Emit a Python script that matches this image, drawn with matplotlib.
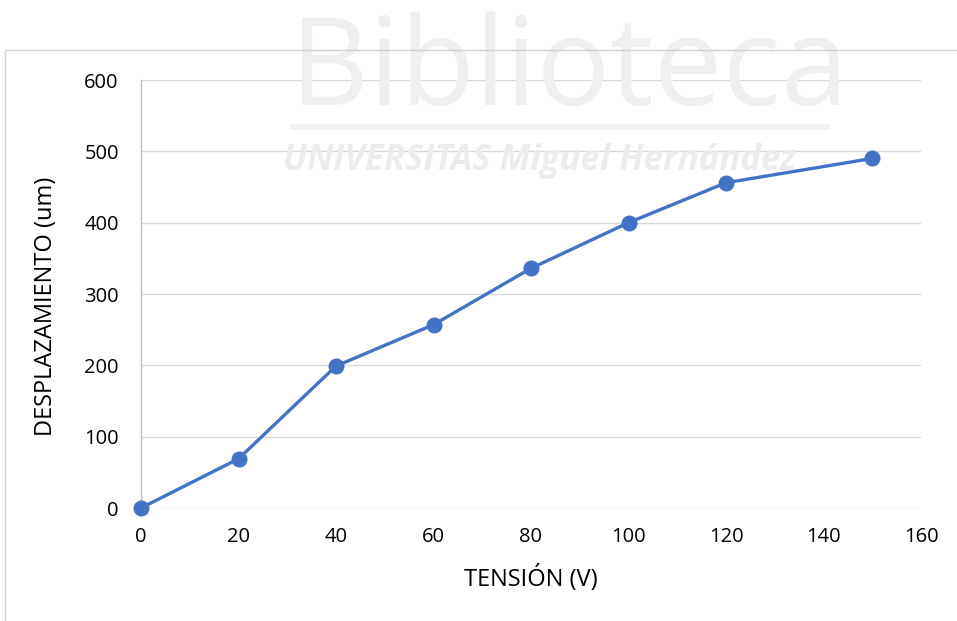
import matplotlib.pyplot as plt
from matplotlib.patches import Rectangle

# data
tension = [0, 20, 40, 60, 80, 100, 120, 150]
desplazamiento = [0, 69, 199, 257, 336, 400, 456, 490]
x_ticks = [0, 20, 40, 60, 80, 100, 120, 140, 160]
y_ticks = [0, 100, 200, 300, 400, 500, 600]

plt.rcParams['font.family'] = ['Open Sans', 'DejaVu Sans']

fig = plt.figure(figsize=(9.57, 6.21), dpi=100)
fig.patch.set_facecolor('white')

# faint library watermark behind the chart
fig.text(290 / 957, 0.831, 'Biblioteca', fontsize=88, color='#efefef',
         ha='left', va='baseline', zorder=0)
fig.patches.append(Rectangle((290 / 957, (621 - 130) / 621), 540 / 957, 6 / 621,
                             transform=fig.transFigure, facecolor='#f2f2f2',
                             edgecolor='none', zorder=0))
fig.text(283 / 957, 0.726, 'UNIVERSITAS Miguel Hernández', fontsize=25, color='#ececec',
         fontweight='bold', fontstyle='italic', ha='left', va='baseline', zorder=0)

# outer chart border (runs off the right and bottom edges)
fig.patches.append(Rectangle((5 / 957, -0.05), 1.0, (621 - 50) / 621 + 0.05,
                             transform=fig.transFigure, fill=False,
                             edgecolor='#d0d0d0', linewidth=1.0, zorder=1))

ax = fig.add_axes([141 / 957, (621 - 508) / 621, 780 / 957, 428 / 621])
ax.patch.set_alpha(0)

ax.plot(tension, desplazamiento, color='#4472C4', linewidth=2.4,
        marker='o', markersize=10.5, zorder=3, clip_on=False)

ax.set_xlim(0, 160)
ax.set_ylim(0, 600)
ax.set_xticks(x_ticks)
ax.set_yticks(y_ticks)
ax.grid(axis='y', color='#d9d9d9', linewidth=1.0)
ax.set_axisbelow(True)

for s in ['top', 'right', 'bottom']:
    ax.spines[s].set_visible(False)
ax.spines['left'].set_color('#bfbfbf')
ax.spines['left'].set_linewidth(1.0)

ax.tick_params(length=0, labelsize=14.5, colors='black')
ax.tick_params(axis='x', pad=14)
ax.tick_params(axis='y', pad=16)

ax.set_xlabel('TENSIÓN (V)', fontsize=17, va='center')
ax.set_ylabel('DESPLAZAMIENTO (um)', fontsize=17, va='center')
ax.xaxis.set_label_coords(0.5, (508 - 579) / 428)
ax.yaxis.set_label_coords((46 - 141) / 780, (508 - 306) / 428)

fig.savefig('out.png', dpi=100)
